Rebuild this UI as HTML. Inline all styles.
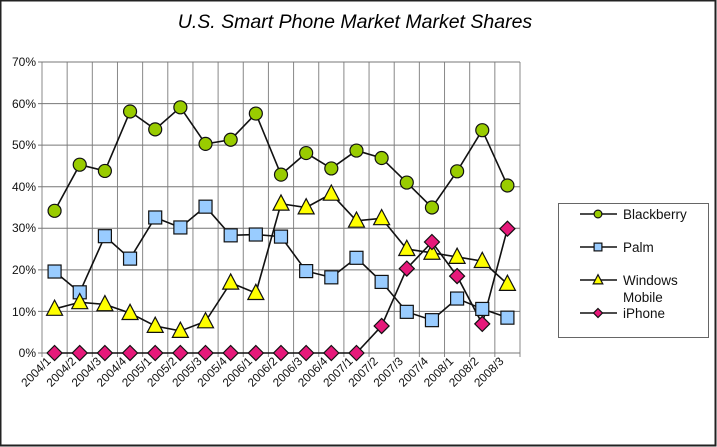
<!DOCTYPE html>
<html><head><meta charset="utf-8"><style>
html,body{margin:0;padding:0;background:#fff}
svg{display:block;font-family:"Liberation Sans",Arial,sans-serif}
</style></head><body>
<svg id="s" width="717" height="447" viewBox="0 0 717 447" xmlns="http://www.w3.org/2000/svg">
<rect x="0.5" y="0.5" width="715" height="445" fill="#fff" stroke="#222" stroke-width="2"/>
<text x="355" y="28" font-size="19.5" font-style="italic" text-anchor="middle">U.S. Smart Phone Market Market Shares</text>
<g id="grid"></g>
<g font-size="12" text-anchor="end" fill="#111">
<text x="36" y="66">70%</text><text x="36" y="108">60%</text><text x="36" y="149">50%</text>
<text x="36" y="191">40%</text><text x="36" y="232">30%</text><text x="36" y="274">20%</text>
<text x="36" y="316">10%</text><text x="36" y="357">0%</text>
</g>
<g id="xl" font-size="11.8" text-anchor="end" fill="#111">
<text>2004/1</text><text>2004/2</text><text>2004/3</text><text>2004/4</text>
<text>2005/1</text><text>2005/2</text><text>2005/3</text><text>2005/4</text>
<text>2006/1</text><text>2006/2</text><text>2006/3</text><text>2006/4</text>
<text>2007/1</text><text>2007/2</text><text>2007/3</text><text>2007/4</text>
<text>2008/1</text><text>2008/2</text><text>2008/3</text>
</g>
<g id="series"></g>
<rect x="558.5" y="203.5" width="150" height="134" fill="#fff" stroke="#666"/>
<g id="leg"></g>
<g font-size="13.5" fill="#111">
<text x="623" y="219">Blackberry</text>
<text x="623" y="252">Palm</text>
<text x="623" y="285">Windows</text>
<text x="623" y="302">Mobile</text>
<text x="623" y="318">iPhone</text>
</g>
</svg>
<script>
var NS="http://www.w3.org/2000/svg";
function el(p,t,a){var e=document.createElementNS(NS,t);for(var k in a)e.setAttribute(k,a[k]);p.appendChild(e);return e;}
var L=42,R=520,T=62,B=353,N=19,w=(R-L)/N;
function X(i){return L+w*(i+0.5);} function Y(v){return B-(B-T)*v/70;}
var g=document.getElementById('grid');
for(var i=0;i<=N;i++){var x=L+w*i;el(g,'line',{x1:x,x2:x,y1:T,y2:B+4,stroke:'#888','stroke-width':1});}
for(var v=0;v<=70;v+=10){el(g,'line',{x1:L-4,x2:R,y1:Y(v),y2:Y(v),stroke:'#777','stroke-width':1});}
var xl=document.getElementById('xl').children;
for(var i=0;i<N;i++){var x=X(i)-3,y=362;xl[i].setAttribute('transform','translate('+x+','+y+') rotate(-45)');}
var D=[
{c:'#99cc00',m:'c',d:[34.2,45.3,43.8,58.1,53.8,59.1,50.3,51.3,57.6,42.9,48.1,44.4,48.7,46.9,41,35,43.7,53.6,40.3]},
{c:'#99ccff',m:'s',d:[19.6,14.6,28.1,22.7,32.6,30.2,35.2,28.3,28.5,28,19.7,18.2,22.9,17.1,9.9,7.9,13.1,10.6,8.5]},
{c:'#ffff00',m:'t',d:[10.6,12.2,11.7,9.6,6.5,5.3,7.6,16.9,14.4,35.9,35,38.3,31.8,32.4,25.0,24.1,23.1,22.1,16.6]},
{c:'#e6197a',m:'d',d:[0,0,0,0,0,0,0,0,0,0,0,0,0,6.5,20.3,26.7,18.5,7.0,29.9]}];
function mk(p,m,x,y,c,s){var a={fill:c,stroke:'#111','stroke-width':1.2};
 if(m=='c'){a.cx=x;a.cy=y;a.r=6.5*s;el(p,'circle',a);}
 else if(m=='s'){var h=6.5*s;a.x=x-h;a.y=y-h;a.width=2*h;a.height=2*h;el(p,'rect',a);}
 else if(m=='t'){var h=8*s;a.points=(x-h)+','+(y+h*0.8)+' '+(x+h)+','+(y+h*0.8)+' '+x+','+(y-h*1.1);el(p,'polygon',a);}
 else {var h=7.5*s;a.points=x+','+(y-h)+' '+(x+h)+','+y+' '+x+','+(y+h)+' '+(x-h)+','+y;el(p,'polygon',a);}}
var sg=document.getElementById('series');
D.forEach(function(s){var pts=s.d.map(function(v,i){return X(i)+','+Y(v);}).join(' ');
 el(sg,'polyline',{points:pts,fill:'none',stroke:'#111','stroke-width':1.6});});
D.forEach(function(s){s.d.forEach(function(v,i){mk(sg,s.m,X(i),Y(v),s.c,1);});});
var lg=document.getElementById('leg'),ly=[214,247,280,313];
D.forEach(function(s,k){el(lg,'line',{x1:580,x2:617,y1:ly[k],y2:ly[k],stroke:'#111','stroke-width':1.6});mk(lg,s.m,598,ly[k],s.c,0.6);});
</script>
</body></html>
